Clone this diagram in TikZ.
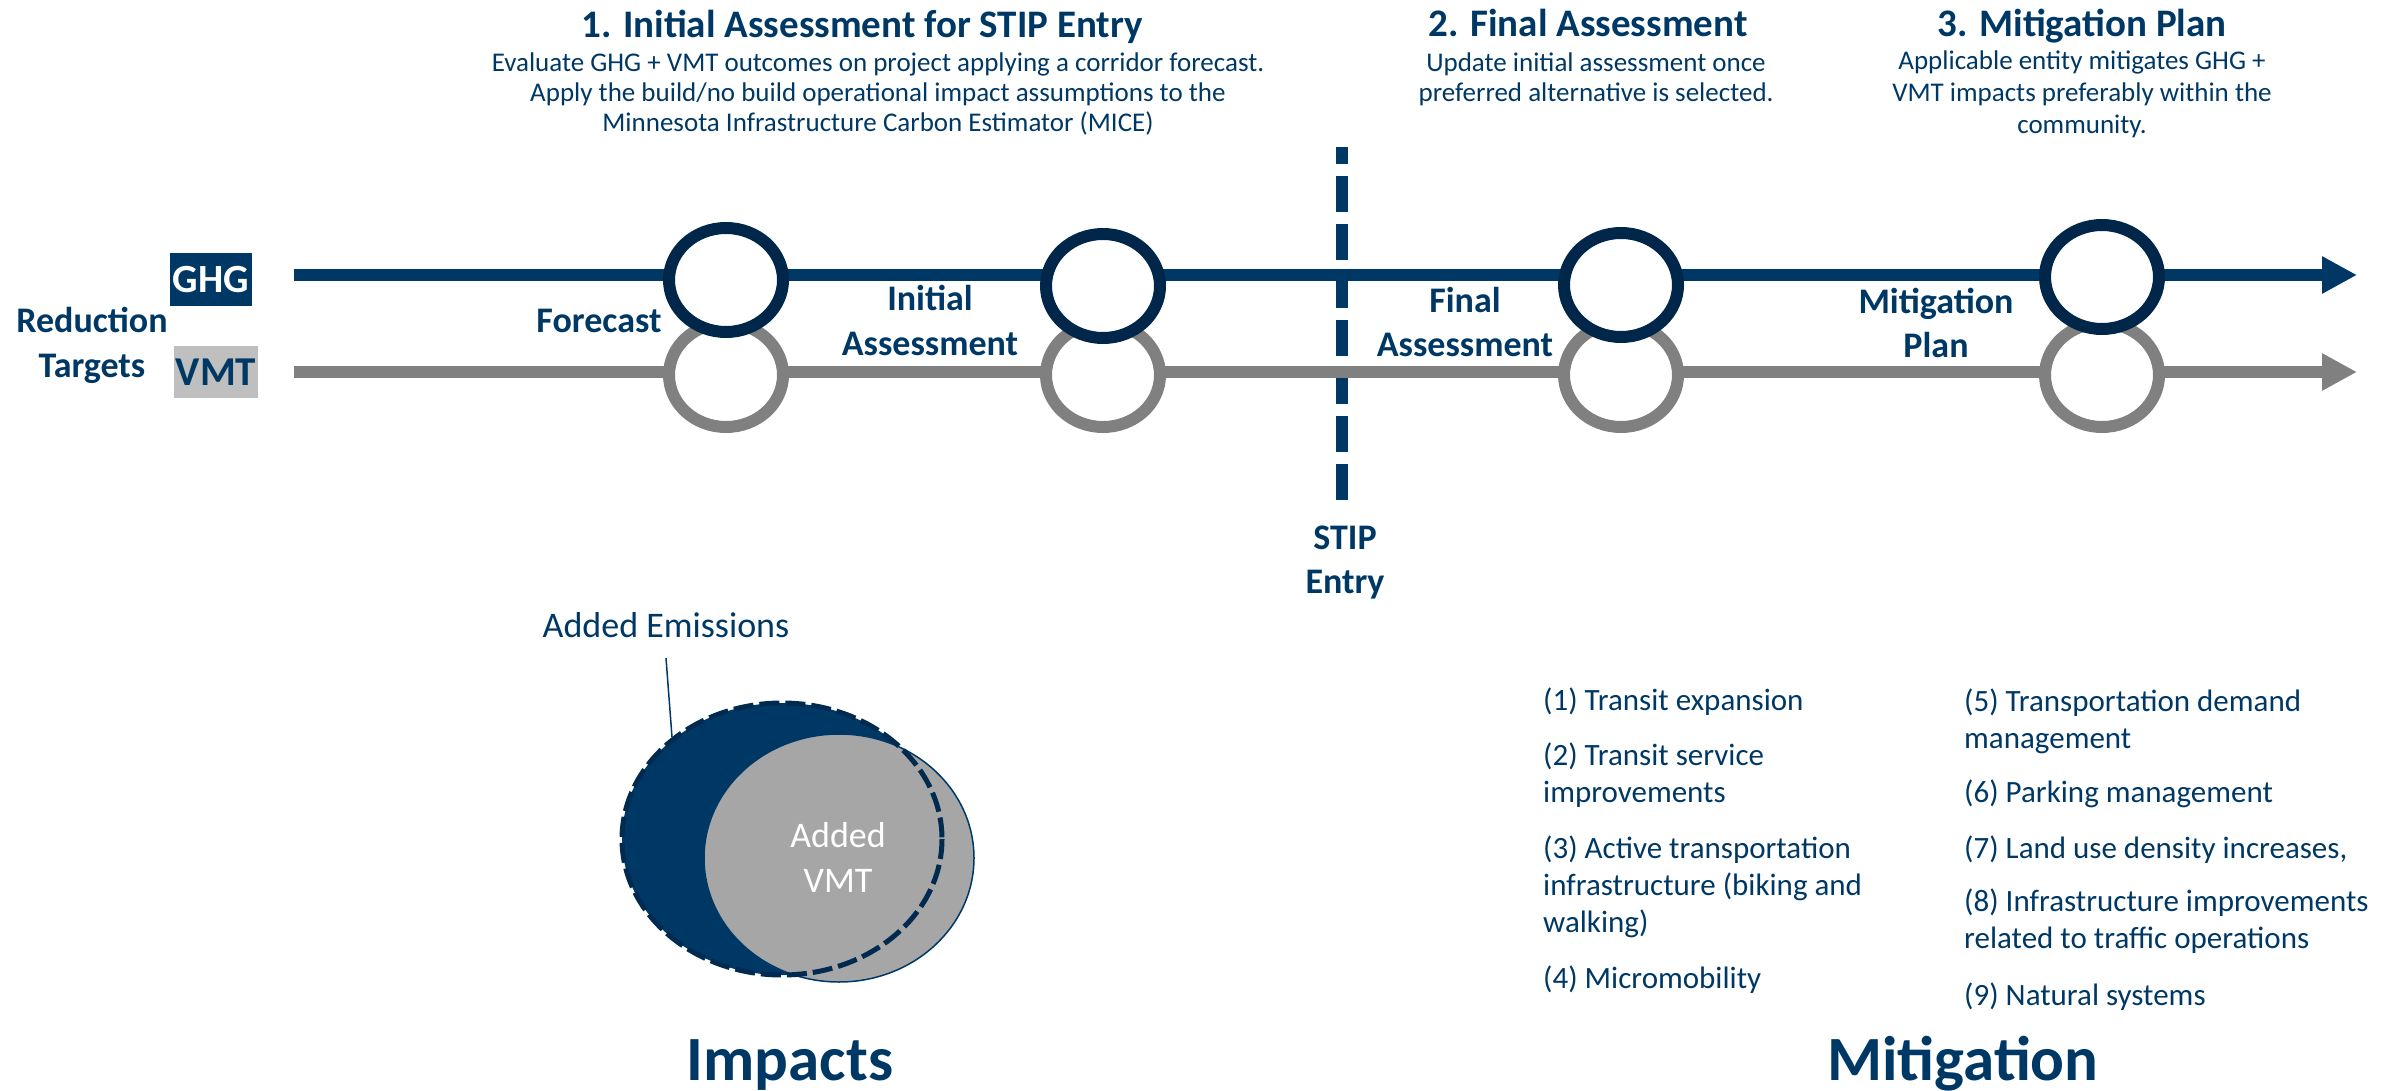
\documentclass[tikz,border=0pt]{standalone}
\usepackage{fontspec}
\setmainfont{Carlito}
\usetikzlibrary{arrows.meta,shapes.geometric}

\definecolor{navy}{HTML}{003865}
\definecolor{ringnavy}{HTML}{00274A}
\definecolor{lanegray}{HTML}{808080}
\definecolor{boxgray}{HTML}{BFBFBF}
\definecolor{venngray}{HTML}{A6A6A6}
\definecolor{dashnavy}{HTML}{002A4F}

\tikzset{
  lanelbl/.style={font=\bfseries\fontsize{36}{44}\selectfont, text=navy, align=center, inner sep=0pt},
  phasetitle/.style={font=\bfseries\fontsize{39}{44}\selectfont, text=navy, inner sep=0pt, anchor=base},
  phasetext/.style={font=\fontsize{27}{30}\selectfont, text=navy, inner sep=0pt, anchor=base},
  listitem/.style={font=\fontsize{31}{37}\selectfont, text=navy, align=left, inner sep=0pt, anchor=base west},
  bigtitle/.style={font=\bfseries\fontsize{63}{70}\selectfont, text=navy, inner sep=0pt, anchor=base},
  ghgring/.style={ellipse, draw=ringnavy, fill=white, line width=12pt, minimum width=114pt, minimum height=104pt, inner sep=0pt},
  vmtring/.style={ellipse, draw=lanegray, fill=white, line width=12pt, minimum width=114pt, minimum height=104pt, inner sep=0pt},
  lane/.style={line width=12pt, -{Triangle[length=35pt,width=35pt]}}
}

\begin{document}
\begin{tikzpicture}[x=1pt, y=-1pt]
\useasboundingbox (0,0) rectangle (2404,1091);

% STIP entry marker (drawn first so the lanes pass over it)
\coordinate (stiptop) at (1342,147);
\coordinate (stipbot) at (1342,500);
\draw[navy, line width=12pt, dash pattern=on 36pt off 12pt] (stipbot) -- (stiptop);
\node[lanelbl, anchor=base] (stip) at (1345,593) {STIP\\Entry};

% GHG and VMT lanes
\coordinate (ghgstart) at (294,275);
\coordinate (ghgend) at (2357,275);
\coordinate (vmtstart) at (294,372);
\coordinate (vmtend) at (2357,372);
\draw[lane, navy] (ghgstart) -- (ghgend);
\draw[lane, lanegray] (vmtstart) -- (vmtend);

% milestone rings
\node[vmtring] (v1) at (726,375) {};
\node[vmtring] (v2) at (1103,375) {};
\node[vmtring] (v3) at (1621,375) {};
\node[vmtring] (v4) at (2102,375) {};
\node[ghgring] (g1) at (726,280) {};
\node[ghgring] (g2) at (1103,286) {};
\node[ghgring] (g3) at (1621,285) {};
\node[ghgring] (g4) at (2102,277) {};

% lane labels
\node[fill=navy, minimum width=82pt, minimum height=53pt, inner sep=0pt,
      text=white, font=\bfseries\fontsize{40}{44}\selectfont] (ghg) at (211,280) {GHG};
\node[fill=boxgray, minimum width=84pt, minimum height=52pt, inner sep=0pt,
      text=navy, font=\bfseries\fontsize{41}{44}\selectfont] (vmt) at (216,372) {VMT};
\node[lanelbl, anchor=base] (targets) at (92,377) {Reduction\\Targets};

% stage labels along the lanes
\node[lanelbl, anchor=base] (forecast) at (599,333) {Forecast};
\node[lanelbl, anchor=base] (initial) at (930,355) {Initial\\Assessment};
\node[lanelbl, anchor=base] (final) at (1465,356) {Final\\Assessment};
\node[lanelbl, anchor=base] (mitplan) at (1936,357) {Mitigation\\Plan};

% phase headings
\node[phasetitle] (t1) at (862,38) {1. Initial Assessment for STIP Entry};
\node[phasetext] (t1a) at (878,72) {Evaluate GHG + VMT outcomes on project applying a corridor forecast.};
\node[phasetext] (t1b) at (878,102) {Apply the build/no build operational impact assumptions to the};
\node[phasetext] (t1c) at (878,132) {Minnesota Infrastructure Carbon Estimator (MICE)};

\node[phasetitle] (t2) at (1588,37) {2. Final Assessment};
\node[phasetext] (t2a) at (1596,72) {Update initial assessment once};
\node[phasetext] (t2b) at (1596,102) {preferred alternative is selected.};

\node[phasetitle] (t3) at (2082,37) {3. Mitigation Plan};
\node[phasetext] (t3a) at (2082,70) {Applicable entity mitigates GHG +};
\node[phasetext] (t3b) at (2082,102) {VMT impacts preferably within the};
\node[phasetext] (t3c) at (2082,134) {community.};

% impacts diagram
\fill[navy] (782,839) ellipse [x radius=160, y radius=136];
\draw[navy, line width=1.5pt, fill=venngray] (839,858) ellipse [x radius=135, y radius=124];
\draw[dashnavy, line width=5pt, dash pattern=on 20pt off 6pt] (782,839) ellipse [x radius=160, y radius=136];
\node[font=\fontsize{36}{45}\selectfont, text=white, align=center, inner sep=0pt, anchor=base] (addvmt) at (838,892) {Added\\VMT};
\node[font=\fontsize{36}{44}\selectfont, text=navy, inner sep=0pt, anchor=base] (emis) at (666,637) {Added Emissions};
\coordinate (emisfoot) at (666,658);
\coordinate (emisedge) at (672,737);
\draw[navy, line width=1.5pt] (emisfoot) -- (emisedge);

% mitigation measures
\node[listitem] (m1) at (1543,710) {(1) Transit expansion};
\node[listitem] (m2) at (1543,802) {(2) Transit service\\improvements};
\node[listitem] (m3) at (1543,932) {(3) Active transportation\\infrastructure (biking and\\walking)};
\node[listitem] (m4) at (1543,988) {(4) Micromobility};
\node[listitem] (m5) at (1964,748) {(5) Transportation demand\\management};
\node[listitem] (m6) at (1964,802) {(6) Parking management};
\node[listitem] (m7) at (1964,858) {(7) Land use density increases,};
\node[listitem] (m8) at (1964,948) {(8) Infrastructure improvements\\related to traffic operations};
\node[listitem] (m9) at (1964,1005) {(9) Natural systems};

% section headings
\node[bigtitle] (impacts) at (790,1080) {Impacts};
\node[bigtitle] (mitigation) at (1963,1080) {Mitigation};
\end{tikzpicture}
\end{document}
